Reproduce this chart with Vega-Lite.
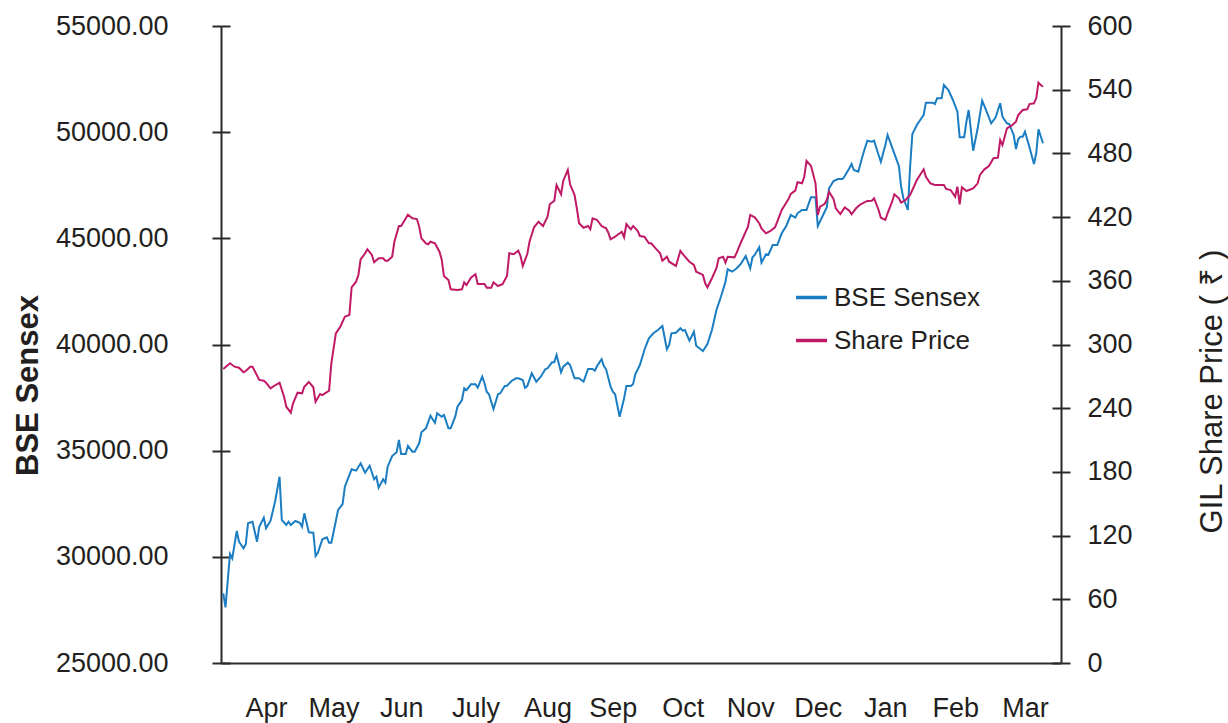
{
  "$schema": "https://vega.github.io/schema/vega-lite/v6.json",
  "width": 840,
  "height": 637,
  "autosize": {"type": "none"},
  "padding": {"left": 221, "top": 26, "right": 167, "bottom": 60},
  "background": "white",
  "config": {
    "view": {"stroke": null},
    "font": "Liberation Sans",
    "axis": {"labelFont": "Liberation Sans", "titleFont": "Liberation Sans", "labelColor": "#231f20", "titleColor": "#231f20", "domainColor": "#2a2a2a", "tickColor": "#2a2a2a", "domainWidth": 2, "tickWidth": 2, "grid": false},
    "legend": {"labelFont": "Liberation Sans"}
  },
  "datasets": {
    "sensex": [
      {"date": "2020-04-01", "value": 28282}, {"date": "2020-04-02", "value": 27623}, {"date": "2020-04-04", "value": 30133}, {"date": "2020-04-05", "value": 29931},
      {"date": "2020-04-07", "value": 31217}, {"date": "2020-04-08", "value": 30713}, {"date": "2020-04-10", "value": 30402}, {"date": "2020-04-11", "value": 30590},
      {"date": "2020-04-12", "value": 31579}, {"date": "2020-04-14", "value": 31654}, {"date": "2020-04-16", "value": 30713}, {"date": "2020-04-17", "value": 31419},
      {"date": "2020-04-19", "value": 31843}, {"date": "2020-04-20", "value": 31344}, {"date": "2020-04-22", "value": 31702}, {"date": "2020-04-24", "value": 32596},
      {"date": "2020-04-26", "value": 33774}, {"date": "2020-04-27", "value": 31735}, {"date": "2020-04-29", "value": 31499}, {"date": "2020-04-30", "value": 31654},
      {"date": "2020-05-01", "value": 31499}, {"date": "2020-05-03", "value": 31687}, {"date": "2020-05-05", "value": 31608}, {"date": "2020-05-06", "value": 31419},
      {"date": "2020-05-07", "value": 32050}, {"date": "2020-05-09", "value": 31155}, {"date": "2020-05-11", "value": 31136}, {"date": "2020-05-12", "value": 30039},
      {"date": "2020-05-13", "value": 30194}, {"date": "2020-05-15", "value": 30825}, {"date": "2020-05-17", "value": 30920}, {"date": "2020-05-18", "value": 30666},
      {"date": "2020-05-19", "value": 30666}, {"date": "2020-05-22", "value": 32206}, {"date": "2020-05-24", "value": 32488}, {"date": "2020-05-25", "value": 33303},
      {"date": "2020-05-28", "value": 34122}, {"date": "2020-05-30", "value": 34057}, {"date": "2020-06-01", "value": 34405}, {"date": "2020-06-03", "value": 33962},
      {"date": "2020-06-05", "value": 34292}, {"date": "2020-06-07", "value": 33651}, {"date": "2020-06-08", "value": 33774}, {"date": "2020-06-09", "value": 33256},
      {"date": "2020-06-11", "value": 33651}, {"date": "2020-06-12", "value": 33491}, {"date": "2020-06-13", "value": 34245}, {"date": "2020-06-15", "value": 34749},
      {"date": "2020-06-17", "value": 34923}, {"date": "2020-06-18", "value": 35502}, {"date": "2020-06-19", "value": 34843}, {"date": "2020-06-21", "value": 34843},
      {"date": "2020-06-22", "value": 35220}, {"date": "2020-06-24", "value": 34951}, {"date": "2020-06-25", "value": 34951}, {"date": "2020-06-27", "value": 35347},
      {"date": "2020-06-28", "value": 35865}, {"date": "2020-06-30", "value": 36053}, {"date": "2020-07-02", "value": 36647}, {"date": "2020-07-04", "value": 36317},
      {"date": "2020-07-05", "value": 36760}, {"date": "2020-07-07", "value": 36600}, {"date": "2020-07-08", "value": 36680}, {"date": "2020-07-10", "value": 36053},
      {"date": "2020-07-11", "value": 36053}, {"date": "2020-07-13", "value": 36600}, {"date": "2020-07-14", "value": 37071}, {"date": "2020-07-16", "value": 37386},
      {"date": "2020-07-17", "value": 37937}, {"date": "2020-07-18", "value": 37857}, {"date": "2020-07-20", "value": 38125}, {"date": "2020-07-22", "value": 38125},
      {"date": "2020-07-23", "value": 37965}, {"date": "2020-07-25", "value": 38483}, {"date": "2020-07-26", "value": 38173}, {"date": "2020-07-27", "value": 37777},
      {"date": "2020-07-28", "value": 37655}, {"date": "2020-07-30", "value": 36962}, {"date": "2020-08-01", "value": 37655}, {"date": "2020-08-02", "value": 37702},
      {"date": "2020-08-04", "value": 38045}, {"date": "2020-08-05", "value": 38060}, {"date": "2020-08-07", "value": 38281}, {"date": "2020-08-09", "value": 38408},
      {"date": "2020-08-10", "value": 38408}, {"date": "2020-08-12", "value": 38328}, {"date": "2020-08-13", "value": 37965}, {"date": "2020-08-14", "value": 38045},
      {"date": "2020-08-16", "value": 38644}, {"date": "2020-08-18", "value": 38248}, {"date": "2020-08-20", "value": 38483}, {"date": "2020-08-22", "value": 38832},
      {"date": "2020-08-23", "value": 38879}, {"date": "2020-08-25", "value": 39162}, {"date": "2020-08-26", "value": 39162}, {"date": "2020-08-27", "value": 39505},
      {"date": "2020-08-29", "value": 38691}, {"date": "2020-08-30", "value": 38955}, {"date": "2020-09-01", "value": 39143}, {"date": "2020-09-02", "value": 39034},
      {"date": "2020-09-04", "value": 38408}, {"date": "2020-09-06", "value": 38408}, {"date": "2020-09-08", "value": 38248}, {"date": "2020-09-10", "value": 38846},
      {"date": "2020-09-12", "value": 38846}, {"date": "2020-09-13", "value": 38766}, {"date": "2020-09-14", "value": 38987}, {"date": "2020-09-16", "value": 39303},
      {"date": "2020-09-17", "value": 38987}, {"date": "2020-09-18", "value": 38832}, {"date": "2020-09-20", "value": 38013}, {"date": "2020-09-21", "value": 37777},
      {"date": "2020-09-22", "value": 37655}, {"date": "2020-09-24", "value": 36600}, {"date": "2020-09-26", "value": 37466}, {"date": "2020-09-27", "value": 38045},
      {"date": "2020-09-29", "value": 38045}, {"date": "2020-09-30", "value": 38140}, {"date": "2020-10-01", "value": 38611}, {"date": "2020-10-03", "value": 39034},
      {"date": "2020-10-05", "value": 39741}, {"date": "2020-10-07", "value": 40292}, {"date": "2020-10-09", "value": 40527}, {"date": "2020-10-11", "value": 40683},
      {"date": "2020-10-13", "value": 40871}, {"date": "2020-10-15", "value": 39774}, {"date": "2020-10-16", "value": 39976}, {"date": "2020-10-17", "value": 40527},
      {"date": "2020-10-19", "value": 40556}, {"date": "2020-10-21", "value": 40763}, {"date": "2020-10-22", "value": 40650}, {"date": "2020-10-23", "value": 40683},
      {"date": "2020-10-25", "value": 40179}, {"date": "2020-10-27", "value": 40603}, {"date": "2020-10-28", "value": 39943}, {"date": "2020-10-30", "value": 39774},
      {"date": "2020-10-31", "value": 39694}, {"date": "2020-11-02", "value": 40023}, {"date": "2020-11-04", "value": 40683}, {"date": "2020-11-06", "value": 41625},
      {"date": "2020-11-08", "value": 42251}, {"date": "2020-11-10", "value": 42958}, {"date": "2020-11-11", "value": 43542}, {"date": "2020-11-13", "value": 43429},
      {"date": "2020-11-15", "value": 43589}, {"date": "2020-11-17", "value": 43824}, {"date": "2020-11-19", "value": 44168}, {"date": "2020-11-21", "value": 43589},
      {"date": "2020-11-22", "value": 44107}, {"date": "2020-11-23", "value": 44215}, {"date": "2020-11-25", "value": 44578}, {"date": "2020-11-26", "value": 43852},
      {"date": "2020-11-28", "value": 44248}, {"date": "2020-11-29", "value": 44215}, {"date": "2020-12-01", "value": 44686}, {"date": "2020-12-03", "value": 44686},
      {"date": "2020-12-05", "value": 45237}, {"date": "2020-12-07", "value": 45581}, {"date": "2020-12-09", "value": 46099}, {"date": "2020-12-11", "value": 45972},
      {"date": "2020-12-12", "value": 46179}, {"date": "2020-12-14", "value": 46334}, {"date": "2020-12-16", "value": 46334}, {"date": "2020-12-17", "value": 46650},
      {"date": "2020-12-18", "value": 46932}, {"date": "2020-12-20", "value": 46932}, {"date": "2020-12-21", "value": 45581}, {"date": "2020-12-23", "value": 46019},
      {"date": "2020-12-25", "value": 46462}, {"date": "2020-12-26", "value": 47356}, {"date": "2020-12-28", "value": 47700}, {"date": "2020-12-30", "value": 47794},
      {"date": "2021-01-01", "value": 47794}, {"date": "2021-01-02", "value": 47936}, {"date": "2021-01-04", "value": 48298}, {"date": "2021-01-05", "value": 48501},
      {"date": "2021-01-06", "value": 48218}, {"date": "2021-01-08", "value": 48138}, {"date": "2021-01-10", "value": 48925}, {"date": "2021-01-12", "value": 49598},
      {"date": "2021-01-14", "value": 49551}, {"date": "2021-01-15", "value": 49598}, {"date": "2021-01-17", "value": 48925}, {"date": "2021-01-18", "value": 48609},
      {"date": "2021-01-20", "value": 49396}, {"date": "2021-01-21", "value": 49867}, {"date": "2021-01-23", "value": 49287}, {"date": "2021-01-26", "value": 48407},
      {"date": "2021-01-27", "value": 47432}, {"date": "2021-01-28", "value": 46885}, {"date": "2021-01-30", "value": 46334}, {"date": "2021-01-31", "value": 48374},
      {"date": "2021-02-01", "value": 49914}, {"date": "2021-02-03", "value": 50337}, {"date": "2021-02-05", "value": 50653}, {"date": "2021-02-06", "value": 50808},
      {"date": "2021-02-07", "value": 51388}, {"date": "2021-02-10", "value": 51388}, {"date": "2021-02-11", "value": 51327}, {"date": "2021-02-12", "value": 51595},
      {"date": "2021-02-14", "value": 51595}, {"date": "2021-02-15", "value": 52221}, {"date": "2021-02-17", "value": 51986}, {"date": "2021-02-19", "value": 51515},
      {"date": "2021-02-21", "value": 50964}, {"date": "2021-02-22", "value": 49758}, {"date": "2021-02-24", "value": 49758}, {"date": "2021-02-25", "value": 50493},
      {"date": "2021-02-26", "value": 51044}, {"date": "2021-02-28", "value": 49127}, {"date": "2021-03-02", "value": 50182}, {"date": "2021-03-04", "value": 51482},
      {"date": "2021-03-06", "value": 50964}, {"date": "2021-03-08", "value": 50418}, {"date": "2021-03-10", "value": 50700}, {"date": "2021-03-11", "value": 51044},
      {"date": "2021-03-12", "value": 51360}, {"date": "2021-03-13", "value": 50728}, {"date": "2021-03-15", "value": 50418}, {"date": "2021-03-16", "value": 50385},
      {"date": "2021-03-18", "value": 49867}, {"date": "2021-03-19", "value": 49207}, {"date": "2021-03-20", "value": 49664}, {"date": "2021-03-21", "value": 49787},
      {"date": "2021-03-22", "value": 49787}, {"date": "2021-03-23", "value": 50022}, {"date": "2021-03-25", "value": 49287}, {"date": "2021-03-27", "value": 48501},
      {"date": "2021-03-28", "value": 49005}, {"date": "2021-03-29", "value": 50135}, {"date": "2021-03-31", "value": 49476}
    ],
    "price": [
      {"date": "2020-04-01", "value": 276.9}, {"date": "2020-04-04", "value": 282.3}, {"date": "2020-04-06", "value": 279.1}, {"date": "2020-04-08", "value": 278.1},
      {"date": "2020-04-10", "value": 273.8}, {"date": "2020-04-11", "value": 275.0}, {"date": "2020-04-13", "value": 279.1}, {"date": "2020-04-14", "value": 279.1},
      {"date": "2020-04-17", "value": 266.6}, {"date": "2020-04-19", "value": 265.9}, {"date": "2020-04-20", "value": 264.0}, {"date": "2020-04-22", "value": 258.7},
      {"date": "2020-04-24", "value": 261.6}, {"date": "2020-04-26", "value": 264.0}, {"date": "2020-04-28", "value": 250.8}, {"date": "2020-04-29", "value": 241.4},
      {"date": "2020-05-01", "value": 235.8}, {"date": "2020-05-02", "value": 244.6}, {"date": "2020-05-04", "value": 254.6}, {"date": "2020-05-06", "value": 254.0},
      {"date": "2020-05-07", "value": 260.2}, {"date": "2020-05-09", "value": 264.7}, {"date": "2020-05-11", "value": 259.7}, {"date": "2020-05-12", "value": 246.1},
      {"date": "2020-05-14", "value": 253.4}, {"date": "2020-05-15", "value": 252.4}, {"date": "2020-05-18", "value": 256.5}, {"date": "2020-05-19", "value": 282.3},
      {"date": "2020-05-21", "value": 310.5}, {"date": "2020-05-23", "value": 316.8}, {"date": "2020-05-25", "value": 326.2}, {"date": "2020-05-27", "value": 327.8},
      {"date": "2020-05-28", "value": 353.9}, {"date": "2020-05-30", "value": 359.2}, {"date": "2020-05-31", "value": 365.5}, {"date": "2020-06-01", "value": 380.2},
      {"date": "2020-06-03", "value": 385.9}, {"date": "2020-06-04", "value": 389.7}, {"date": "2020-06-06", "value": 384.3}, {"date": "2020-06-07", "value": 377.4},
      {"date": "2020-06-09", "value": 381.2}, {"date": "2020-06-11", "value": 381.2}, {"date": "2020-06-12", "value": 378.9}, {"date": "2020-06-13", "value": 378.9},
      {"date": "2020-06-15", "value": 382.7}, {"date": "2020-06-16", "value": 396.8}, {"date": "2020-06-18", "value": 411.6}, {"date": "2020-06-19", "value": 411.6},
      {"date": "2020-06-22", "value": 422.3}, {"date": "2020-06-24", "value": 418.9}, {"date": "2020-06-26", "value": 418.2}, {"date": "2020-06-27", "value": 411.0},
      {"date": "2020-06-28", "value": 400.0}, {"date": "2020-06-30", "value": 395.3}, {"date": "2020-07-01", "value": 394.4}, {"date": "2020-07-02", "value": 396.8},
      {"date": "2020-07-04", "value": 395.3}, {"date": "2020-07-06", "value": 387.4}, {"date": "2020-07-07", "value": 380.2}, {"date": "2020-07-08", "value": 364.5},
      {"date": "2020-07-10", "value": 360.8}, {"date": "2020-07-11", "value": 352.0}, {"date": "2020-07-14", "value": 351.3}, {"date": "2020-07-16", "value": 352.0},
      {"date": "2020-07-17", "value": 358.6}, {"date": "2020-07-18", "value": 356.0}, {"date": "2020-07-20", "value": 362.9}, {"date": "2020-07-22", "value": 366.1},
      {"date": "2020-07-23", "value": 357.0}, {"date": "2020-07-26", "value": 357.0}, {"date": "2020-07-27", "value": 353.5}, {"date": "2020-07-29", "value": 353.5},
      {"date": "2020-07-30", "value": 358.6}, {"date": "2020-08-01", "value": 355.1}, {"date": "2020-08-03", "value": 356.7}, {"date": "2020-08-05", "value": 364.5},
      {"date": "2020-08-06", "value": 385.9}, {"date": "2020-08-08", "value": 385.0}, {"date": "2020-08-10", "value": 388.4}, {"date": "2020-08-11", "value": 383.4},
      {"date": "2020-08-12", "value": 373.9}, {"date": "2020-08-14", "value": 385.2}, {"date": "2020-08-15", "value": 396.8}, {"date": "2020-08-17", "value": 410.4},
      {"date": "2020-08-19", "value": 415.7}, {"date": "2020-08-21", "value": 411.6}, {"date": "2020-08-23", "value": 420.4}, {"date": "2020-08-24", "value": 432.1},
      {"date": "2020-08-26", "value": 435.4}, {"date": "2020-08-27", "value": 450.2}, {"date": "2020-08-29", "value": 441.5}, {"date": "2020-08-30", "value": 454.3},
      {"date": "2020-09-01", "value": 464.4}, {"date": "2020-09-02", "value": 450.9}, {"date": "2020-09-04", "value": 440.8}, {"date": "2020-09-05", "value": 428.3},
      {"date": "2020-09-06", "value": 414.2}, {"date": "2020-09-08", "value": 410.0}, {"date": "2020-09-10", "value": 411.6}, {"date": "2020-09-11", "value": 408.5},
      {"date": "2020-09-12", "value": 418.9}, {"date": "2020-09-14", "value": 417.3}, {"date": "2020-09-16", "value": 411.6}, {"date": "2020-09-18", "value": 409.4},
      {"date": "2020-09-19", "value": 405.3}, {"date": "2020-09-20", "value": 399.1}, {"date": "2020-09-22", "value": 401.5}, {"date": "2020-09-23", "value": 403.1},
      {"date": "2020-09-25", "value": 406.2}, {"date": "2020-09-26", "value": 401.0}, {"date": "2020-09-27", "value": 413.5}, {"date": "2020-09-29", "value": 408.5},
      {"date": "2020-09-30", "value": 411.6}, {"date": "2020-10-02", "value": 407.2}, {"date": "2020-10-03", "value": 402.2}, {"date": "2020-10-05", "value": 401.5},
      {"date": "2020-10-07", "value": 395.3}, {"date": "2020-10-08", "value": 395.3}, {"date": "2020-10-10", "value": 390.6}, {"date": "2020-10-12", "value": 385.9},
      {"date": "2020-10-13", "value": 378.9}, {"date": "2020-10-15", "value": 382.7}, {"date": "2020-10-16", "value": 378.0}, {"date": "2020-10-19", "value": 374.0},
      {"date": "2020-10-21", "value": 388.1}, {"date": "2020-10-23", "value": 382.7}, {"date": "2020-10-25", "value": 378.0}, {"date": "2020-10-27", "value": 374.9},
      {"date": "2020-10-28", "value": 368.6}, {"date": "2020-10-31", "value": 365.5}, {"date": "2020-11-01", "value": 357.6}, {"date": "2020-11-02", "value": 353.9},
      {"date": "2020-11-04", "value": 362.4}, {"date": "2020-11-06", "value": 371.8}, {"date": "2020-11-07", "value": 381.2}, {"date": "2020-11-09", "value": 382.7},
      {"date": "2020-11-10", "value": 377.0}, {"date": "2020-11-11", "value": 382.7}, {"date": "2020-11-14", "value": 382.1}, {"date": "2020-11-15", "value": 386.5},
      {"date": "2020-11-17", "value": 396.8}, {"date": "2020-11-20", "value": 411.0}, {"date": "2020-11-21", "value": 422.0}, {"date": "2020-11-23", "value": 419.8},
      {"date": "2020-11-25", "value": 414.2}, {"date": "2020-11-26", "value": 409.4}, {"date": "2020-11-28", "value": 404.7}, {"date": "2020-11-30", "value": 406.9},
      {"date": "2020-12-02", "value": 410.4}, {"date": "2020-12-03", "value": 415.7}, {"date": "2020-12-05", "value": 426.7}, {"date": "2020-12-08", "value": 437.0},
      {"date": "2020-12-09", "value": 441.8}, {"date": "2020-12-11", "value": 444.9}, {"date": "2020-12-12", "value": 452.8}, {"date": "2020-12-14", "value": 451.8},
      {"date": "2020-12-15", "value": 458.0}, {"date": "2020-12-16", "value": 473.1}, {"date": "2020-12-18", "value": 468.1}, {"date": "2020-12-20", "value": 451.8},
      {"date": "2020-12-21", "value": 422.0}, {"date": "2020-12-22", "value": 429.8}, {"date": "2020-12-24", "value": 432.3}, {"date": "2020-12-25", "value": 436.1},
      {"date": "2020-12-26", "value": 443.9}, {"date": "2020-12-28", "value": 437.0}, {"date": "2020-12-29", "value": 428.3}, {"date": "2020-12-31", "value": 422.9},
      {"date": "2021-01-02", "value": 429.2}, {"date": "2021-01-04", "value": 426.0}, {"date": "2021-01-05", "value": 422.6}, {"date": "2021-01-07", "value": 428.3},
      {"date": "2021-01-09", "value": 432.0}, {"date": "2021-01-12", "value": 435.2}, {"date": "2021-01-14", "value": 435.4}, {"date": "2021-01-15", "value": 437.7},
      {"date": "2021-01-17", "value": 426.7}, {"date": "2021-01-18", "value": 419.4}, {"date": "2021-01-20", "value": 417.3}, {"date": "2021-01-21", "value": 423.6},
      {"date": "2021-01-23", "value": 434.5}, {"date": "2021-01-24", "value": 441.5}, {"date": "2021-01-26", "value": 437.7}, {"date": "2021-01-27", "value": 433.6},
      {"date": "2021-01-29", "value": 436.1}, {"date": "2021-01-31", "value": 440.8}, {"date": "2021-02-01", "value": 445.5}, {"date": "2021-02-03", "value": 454.9},
      {"date": "2021-02-06", "value": 465.0}, {"date": "2021-02-07", "value": 458.0}, {"date": "2021-02-09", "value": 451.8}, {"date": "2021-02-11", "value": 450.2},
      {"date": "2021-02-15", "value": 450.2}, {"date": "2021-02-16", "value": 446.5}, {"date": "2021-02-18", "value": 445.5}, {"date": "2021-02-20", "value": 439.2},
      {"date": "2021-02-21", "value": 448.6}, {"date": "2021-02-22", "value": 432.1}, {"date": "2021-02-23", "value": 448.1}, {"date": "2021-02-25", "value": 444.6},
      {"date": "2021-02-28", "value": 447.1}, {"date": "2021-03-02", "value": 451.8}, {"date": "2021-03-03", "value": 459.7}, {"date": "2021-03-05", "value": 465.0},
      {"date": "2021-03-07", "value": 468.1}, {"date": "2021-03-09", "value": 475.4}, {"date": "2021-03-11", "value": 476.0}, {"date": "2021-03-12", "value": 492.6},
      {"date": "2021-03-13", "value": 487.9}, {"date": "2021-03-15", "value": 503.6}, {"date": "2021-03-17", "value": 506.1}, {"date": "2021-03-19", "value": 509.9},
      {"date": "2021-03-20", "value": 516.2}, {"date": "2021-03-22", "value": 520.9}, {"date": "2021-03-24", "value": 521.5}, {"date": "2021-03-25", "value": 526.5},
      {"date": "2021-03-27", "value": 527.2}, {"date": "2021-03-28", "value": 531.9}, {"date": "2021-03-29", "value": 546.6}, {"date": "2021-03-30", "value": 544.4},
      {"date": "2021-03-31", "value": 542.8}
    ]
  },
  "encoding": {
    "x": {
      "field": "date",
      "type": "temporal",
      "scale": {"type": "utc", "domain": [{"year": 2020, "month": 3, "date": 31, "utc": true}, {"year": 2021, "month": 4, "date": 8, "utc": true}]},
      "axis": {
        "title": null,
        "ticks": false,
        "labelFontSize": 27,
        "labelPadding": 32,
        "labelFlush": false,
        "labelOverlap": false,
        "values": [
          {"year": 2020, "month": 4, "date": 20, "utc": true}, {"year": 2020, "month": 5, "date": 20, "utc": true},
          {"year": 2020, "month": 6, "date": 19, "utc": true}, {"year": 2020, "month": 7, "date": 22, "utc": true},
          {"year": 2020, "month": 8, "date": 23, "utc": true}, {"year": 2020, "month": 9, "date": 21, "utc": true},
          {"year": 2020, "month": 10, "date": 22, "utc": true}, {"year": 2020, "month": 11, "date": 21, "utc": true},
          {"year": 2020, "month": 12, "date": 21, "utc": true}, {"year": 2021, "month": 1, "date": 20, "utc": true},
          {"year": 2021, "month": 2, "date": 20, "utc": true}, {"year": 2021, "month": 3, "date": 23, "utc": true}
        ],
        "labelExpr": "utcFormat(datum.value, '%m') == '07' ? 'July' : utcFormat(datum.value, '%b')"
      }
    }
  },
  "layer": [
    {
      "data": {"name": "sensex"},
      "mark": {"type": "line", "strokeWidth": 2, "interpolate": "linear"},
      "encoding": {
        "y": {
          "field": "value",
          "type": "quantitative",
          "scale": {"domain": [25000, 55000], "zero": false, "nice": false},
          "axis": {
            "orient": "left",
            "title": "BSE Sensex",
            "format": ".2f",
            "values": [25000, 30000, 35000, 40000, 45000, 50000, 55000],
            "tickSize": 9,
            "labelFontSize": 27,
            "labelPadding": 44,
            "titleFontSize": 31,
            "titleFontWeight": "bold",
            "titleAngle": -90,
            "titleX": -193,
            "titleY": 359,
            "titleAlign": "center",
            "titleBaseline": "middle"
          }
        },
        "color": {
          "datum": "BSE Sensex",
          "scale": {"domain": ["BSE Sensex", "Share Price"], "range": ["#1b7dc2", "#c01a66"]},
          "legend": {
            "title": null,
            "orient": "none",
            "legendX": 573,
            "legendY": 254,
            "padding": 0,
            "symbolType": "stroke",
            "symbolSize": 961,
            "symbolStrokeWidth": 3.5,
            "labelFontSize": 26,
            "labelColor": "#231f20",
            "labelOffset": 5,
            "rowPadding": 12
          }
        }
      }
    },
    {
      "data": {"name": "price"},
      "mark": {"type": "line", "strokeWidth": 2, "interpolate": "linear"},
      "encoding": {
        "y": {
          "field": "value",
          "type": "quantitative",
          "scale": {"domain": [0, 600], "nice": false},
          "axis": {
            "orient": "right",
            "title": "GIL Share Price ( ₹ )",
            "format": "d",
            "values": [0, 60, 120, 180, 240, 300, 360, 420, 480, 540, 600],
            "tickSize": 9,
            "labelFontSize": 27,
            "labelPadding": 17,
            "titleFontSize": 31,
            "titleFontWeight": "normal",
            "titleAngle": -90,
            "titleX": 151,
            "titleY": 365,
            "titleAlign": "center",
            "titleBaseline": "middle"
          }
        },
        "color": {"datum": "Share Price"}
      }
    },
    {
      "data": {"name": "sensex"},
      "mark": {"type": "line", "strokeOpacity": 0},
      "encoding": {
        "y": {
          "field": "value",
          "type": "quantitative",
          "scale": {"domain": [25000, 55000], "zero": false, "nice": false},
          "axis": {"orient": "left", "offset": -9, "tickSize": 9, "domain": false, "labels": false, "title": null, "values": [25000, 30000, 35000, 40000, 45000, 50000, 55000]}
        }
      }
    },
    {
      "data": {"name": "price"},
      "mark": {"type": "line", "strokeOpacity": 0},
      "encoding": {
        "y": {
          "field": "value",
          "type": "quantitative",
          "scale": {"domain": [0, 600], "nice": false},
          "axis": {"orient": "right", "offset": -9, "tickSize": 9, "domain": false, "labels": false, "title": null, "values": [0, 60, 120, 180, 240, 300, 360, 420, 480, 540, 600]}
        }
      }
    }
  ],
  "resolve": {"scale": {"y": "independent"}, "axis": {"y": "independent"}}
}
